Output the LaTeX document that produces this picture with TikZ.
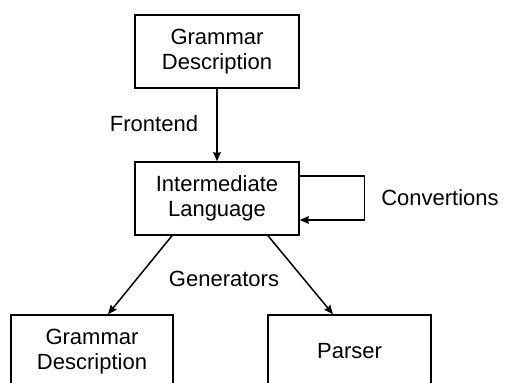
\documentclass[tikz,border=0pt]{standalone}
\usepackage{fontspec}
\setmainfont{Liberation Sans}
\usepackage{tikz}
\usetikzlibrary{calc}
\usetikzlibrary{arrows.meta}
\tikzstyle{every node}=[font=\fontsize{11pt}{12.5pt}\selectfont]

\begin{document}
\begin{tikzpicture}[x=0.5pt,y=-0.5pt,line width=0.75pt,line cap=round]
		\tikzstyle{arrow} = [-{Stealth[length=4.5pt, width=3.8pt, inset=0.4pt]}]
		\tikzstyle{block} = [draw, rectangle, align=center, minimum width=82pt, minimum height=36.5pt, inner sep=0pt]
		
		\clip (0,0) rectangle (505,383);
		
		\node[block] (grammar) at (217,51.5) {Grammar\\Description};
		\node[block] (inter) at (217,198.5) {Intermediate\\Language};
		\node[block, minimum width=81pt] (grammarout) at (92,351.5) {Grammar\\Description};
		\node[block, minimum width=81.5pt] (parser) at (349.5,351.5) {Parser};
		
		\draw[arrow] (grammar) -- (inter);
		\draw[arrow] ([yshift=11.25pt]inter.east) -- ++(65,0) |- ([yshift=-10.75pt]inter.east);
		\draw[arrow] ([xshift=-22.5pt]inter.south) -- ([xshift=8pt]grammarout.north);
		\draw[arrow] ([xshift=25.5pt]inter.south) -- ([xshift=-8.25pt]parser.north);
		
		\node (front) at (154,124) {Frontend};
		\node (gen) at (224,279) {Generators};
		\node (conv) at (440,198) {Convertions};
		
	\end{tikzpicture}
\end{document}
